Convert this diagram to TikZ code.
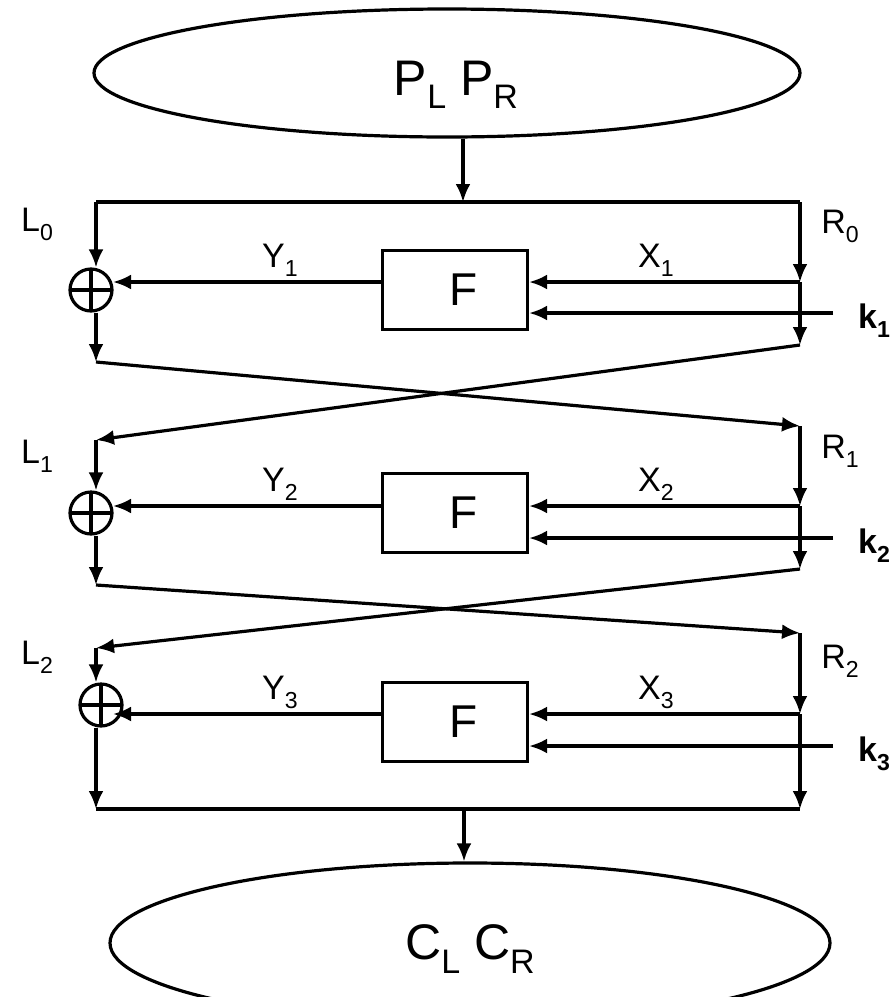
\documentclass[tikz,border=0pt]{standalone}
\usepackage{fontspec}
\setmainfont{Liberation Sans}
\usetikzlibrary{shapes.geometric,arrows.meta,calc}

% low, large subscripts
\newcommand{\lowsub}[1]{\raisebox{-0.5ex}{\scalebox{0.68}{#1}}}

\begin{document}
\begin{tikzpicture}[
x=0.5pt, y=-0.5pt,
line width=1.6pt,
blob/.style={
  draw,
  ellipse,
  inner sep=0pt
  },
fbox/.style={
  draw,
  minimum width=72.5pt,
  minimum height=39.5pt,
  font=\fontsize{23}{26}\selectfont
  },
xor/.style={
  draw,
  circle,
  minimum size=21pt,
  inner sep=0pt,
  path picture={
    \draw (path picture bounding box.north) -- (path picture bounding box.south)
          (path picture bounding box.west) -- (path picture bounding box.east);
    }
  },
lbl/.style={font=\fontsize{17}{20}\selectfont},
keylbl/.style={font=\fontsize{17}{20}\selectfont\bfseries},
big/.style={font=\fontsize{25}{29}\selectfont},
>={Latex[length=9pt,width=7.5pt]}
]
\useasboundingbox (0,0) rectangle (895,997);

% plaintext and ciphertext halves
\node[blob, minimum width=353pt, minimum height=64pt,
  label={[big, xshift=4.5pt, yshift=-6pt]center:P\lowsub{L} P\lowsub{R}}] (plain) at (447,73) {};
\node[blob, minimum width=360pt, minimum height=80pt,
  label={[big, yshift=-3pt]center:C\lowsub{L} C\lowsub{R}}] (cipher) at (470,943) {};

% the three rounds: F box, xor, X/Y lines and round key
\foreach \i/\fy/\xy/\ky/\cx/\cy in {1/290/282/313/91/290, 2/513/506/538/91/513, 3/722/714/746/101/705}
{
  \node[fbox] (f\i) at (455,\fy) {\hspace*{9pt}F};
  \node[xor] (xor\i) at (\cx,\cy) {};
  \coordinate (x\i) at (800,\xy);
  \coordinate (k\i) at (833,\ky);
  \coordinate (y\i) at (113,\xy);
  \draw[->] (x\i) -- (f\i.east |- x\i);
  \draw[->] (k\i) -- (f\i.east |- k\i);
  \draw[->] (f\i.west |- y\i) -- (y\i);
  \node[lbl] (ylab\i) at (280,\xy-22) {Y\lowsub{\i}};
  \node[lbl] (xlab\i) at (656,\xy-22) {X\lowsub{\i}};
  \node[keylbl] (klab\i) at (874,\ky+8) {k\lowsub{\i}};
}

% splitting the input into halves
\coordinate (top) at (463,202);
\coordinate (l0) at (96,202);
\coordinate (r0) at (800,202);
\draw[->] (plain.south -| top) -- (top);
\draw (l0) -- (r0);
\node[lbl] (llab0) at (37,224) {L\lowsub{0}};
\node[lbl] (rlab0) at (840,226) {R\lowsub{0}};

% round 1
\coordinate (l0b) at (96,362);
\coordinate (r0b) at (800,345);
\coordinate (l1) at (96,440);
\coordinate (r1) at (800,426);
\draw[->] (l0) -- (l0 |- xor1.north);
\draw[->] (l0 |- xor1.south) -- (l0b);
\draw[->] (r0) -- (x1);
\draw[->] (x1) -- (r0b);
\draw[->] (l0b) -- (r1);
\draw[->] (r0b) -- (l1);
\node[lbl] (llab1) at (37,456) {L\lowsub{1}};
\node[lbl] (rlab1) at (840,451) {R\lowsub{1}};

% round 2
\coordinate (l1b) at (96,585);
\coordinate (r1b) at (800,569);
\coordinate (l2) at (96,648);
\coordinate (r2) at (800,633);
\draw[->] (l1) -- (l1 |- xor2.north);
\draw[->] (l1 |- xor2.south) -- (l1b);
\draw[->] (r1) -- (x2);
\draw[->] (x2) -- (r1b);
\draw[->] (l1b) -- (r2);
\draw[->] (r1b) -- (l2);
\node[lbl] (llab2) at (37,657) {L\lowsub{2}};
\node[lbl] (rlab2) at (840,661) {R\lowsub{2}};

% round 3 and the output
\coordinate (l3) at (96,809);
\coordinate (r3) at (800,809);
\coordinate (bot) at (464,809);
\draw[->] (l2) -- (l2 |- xor3.north);
\draw[->] (l2 |- xor3.south) -- (l3);
\draw[->] (r2) -- (x3);
\draw[->] (x3) -- (r3);
\draw (l3) -- (r3);
\draw[->] (bot) -- (cipher.north -| bot);
\end{tikzpicture}
\end{document}
